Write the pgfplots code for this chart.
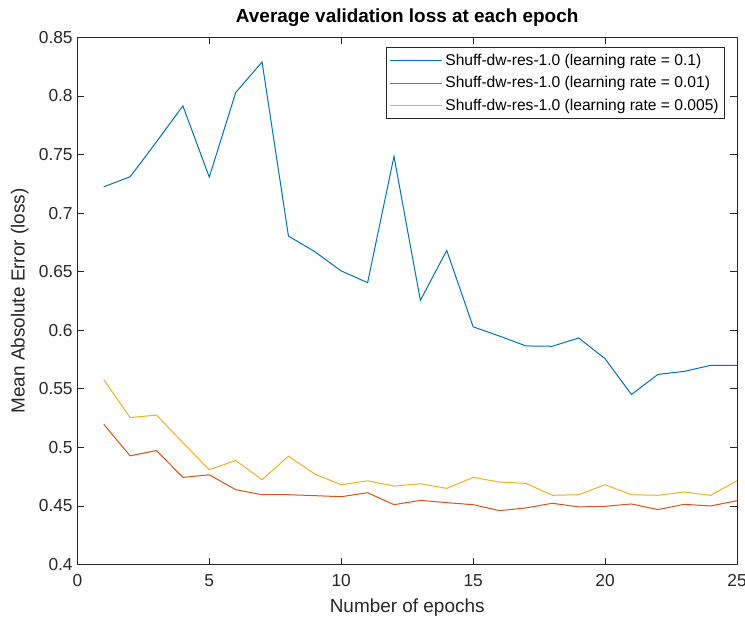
\documentclass[border=0pt]{standalone}
\usepackage{pgfplots}
\pgfplotsset{compat=1.18}
\usepackage{fontspec}
\setmainfont{Liberation Sans}
\definecolor{mblue}{rgb}{0,0.447,0.741}
\definecolor{mred}{rgb}{0.85,0.325,0.098}
\definecolor{myellow}{rgb}{0.929,0.694,0.125}
\definecolor{maxis}{rgb}{0.15,0.15,0.15}
\begin{document}
\begin{tikzpicture}
\begin{axis}[
  scale only axis,
  width=494.6pt, height=395.3pt,
  xmin=0, xmax=25, ymin=0.4, ymax=0.85,
  xtick={0,5,10,15,20,25},
  ytick={0.4,0.45,0.5,0.55,0.6,0.65,0.7,0.75,0.8,0.85},
  yticklabels={0.4,0.45,0.5,0.55,0.6,0.65,0.7,0.75,0.8,0.85},
  tick align=inside,
  tick pos=both,
  major tick length=5pt,
  axis line style={maxis, line width=0.6pt},
  every tick/.style={maxis, line width=0.6pt},
  tick label style={font=\fontsize{13}{15}\selectfont, text=maxis},
  xticklabel style={yshift=-4pt},
  /pgf/number format/assume math mode=true,
  xlabel={Number of epochs},
  ylabel={Mean Absolute Error (loss)},
  label style={font=\fontsize{14.2}{16}\selectfont, text=maxis},
  xlabel style={at={(axis description cs:0.5,-0.0816)}, anchor=center},
  ylabel style={at={(axis description cs:-0.0872,0.5)}, anchor=center},
  every axis title shift=0pt,
  title={\textbf{Average validation loss at each epoch}},
  title style={font=\fontsize{14.2}{16}\selectfont, at={(axis description cs:0.5,1.037)}, anchor=center},
  legend style={at={(0.982,0.981)}, anchor=north east, draw=maxis, line width=0.6pt,
    font=\fontsize{11.7}{14}\selectfont, row sep=3pt, inner sep=2.5pt},
  legend cell align=left,
  legend image code/.code={\draw[#1] (0cm,0cm) -- (39pt,0cm);},
]
\addplot[mblue, line width=0.75pt] coordinates {
(1,0.7224) (2,0.731) (3,0.7608) (4,0.7915) (5,0.7307) (6,0.8028) (7,0.829)
(8,0.6804) (9,0.667) (10,0.6506) (11,0.6406) (12,0.7484) (13,0.6255) (14,0.6681)
(15,0.6029) (16,0.595) (17,0.5866) (18,0.5863) (19,0.5934) (20,0.5757)
(21,0.5451) (22,0.5623) (23,0.5649) (24,0.570) (25,0.570)};
\addlegendentry{Shuff-dw-res-1.0 (learning rate = 0.1)}
\addplot[mred, line width=0.75pt] coordinates {
(1,0.5197) (2,0.4928) (3,0.4973) (4,0.4744) (5,0.4766) (6,0.4639) (7,0.4596)
(8,0.4596) (9,0.4588) (10,0.4579) (11,0.4613) (12,0.4511) (13,0.4548) (14,0.4528)
(15,0.4511) (16,0.446) (17,0.4483) (18,0.4523) (19,0.4492) (20,0.4497)
(21,0.4517) (22,0.4469) (23,0.4514) (24,0.450) (25,0.4545)};
\addlegendentry{Shuff-dw-res-1.0 (learning rate = 0.01)}
\addplot[myellow, line width=0.75pt] coordinates {
(1,0.5579) (2,0.5254) (3,0.5276) (4,0.504) (5,0.4809) (6,0.4888) (7,0.4724)
(8,0.4925) (9,0.4772) (10,0.4681) (11,0.4715) (12,0.467) (13,0.469) (14,0.465)
(15,0.4744) (16,0.4704) (17,0.4693) (18,0.4591) (19,0.4596) (20,0.4681)
(21,0.4596) (22,0.4591) (23,0.4619) (24,0.4591) (25,0.4715)};
\addlegendentry{Shuff-dw-res-1.0 (learning rate = 0.005)}
\end{axis}
\pgfresetboundingbox
\useasboundingbox ([xshift=-58pt,yshift=-40.5pt]current axis.south west) rectangle ([xshift=6pt,yshift=28pt]current axis.north east);
\end{tikzpicture}
\end{document}
